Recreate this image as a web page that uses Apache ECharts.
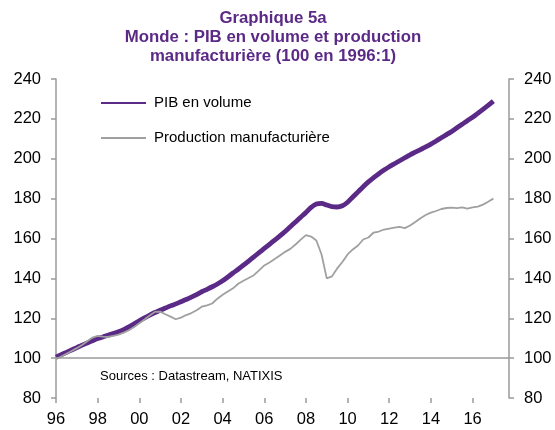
<!DOCTYPE html>
<html>
<head>
<meta charset="utf-8">
<script src="https://cdn.jsdelivr.net/npm/echarts@6/dist/echarts.min.js"></script>
<style>
  html, body { margin: 0; padding: 0; background: #fff; }
  #chart { width: 555px; height: 430px; }
</style>
</head>
<body>
<div id="chart"></div>
<script>
// Graphique 5a — Monde : PIB en volume et production manufacturière (100 en 1996:1)
var firstYear = 1996;
var lastYear = 2017;
var tickLabels = ['96', '98', '00', '02', '04', '06', '08', '10', '12', '14', '16'];

// données trimestrielles, 1996:1 -> 2017:1
var pib = [
  100.5, 101.7, 102.9, 104.1,   // 1996
  105.3, 106.5, 107.6, 108.7,   // 1997
  109.8, 110.6, 111.5, 112.3,   // 1998
  113.2, 114.3, 115.7, 117.2,   // 1999
  118.7, 120.2, 121.6, 122.9,   // 2000
  124.0, 125.1, 126.2, 127.2,   // 2001
  128.3, 129.4, 130.6, 131.9,   // 2002
  133.3, 134.5, 135.8, 137.2,   // 2003
  138.8, 140.7, 142.7, 144.6,   // 2004
  146.6, 148.7, 150.8, 152.9,   // 2005
  155.0, 157.1, 159.2, 161.3,   // 2006
  163.5, 165.9, 168.3, 170.7,   // 2007
  173.0, 175.6, 177.3, 177.6,   // 2008
  176.8, 176.0, 175.8, 176.4,   // 2009
  178.2, 180.8, 183.4, 186.0,   // 2010
  188.4, 190.5, 192.5, 194.3,   // 2011
  196.0, 197.5, 199.0, 200.5,   // 2012
  202.0, 203.3, 204.6, 205.9,   // 2013
  207.3, 208.9, 210.5, 212.1,   // 2014
  213.7, 215.5, 217.3, 219.1,   // 2015
  220.8, 222.8, 224.8, 226.8,   // 2016
  228.9                          // 2017
];

var production = [
  99.5, 100.8, 102.2, 103.6,    // 1996
  105.0, 106.6, 108.5, 110.3,   // 1997
  111.2, 110.8, 110.6, 111.2,   // 1998
  111.8, 112.8, 114.0, 115.6,   // 1999
  117.5, 119.4, 121.4, 123.2,   // 2000
  123.3, 122.0, 120.8, 119.5,   // 2001
  120.3, 121.6, 122.6, 124.0,   // 2002
  125.8, 126.5, 127.4, 129.8,   // 2003
  131.8, 133.4, 135.0, 137.3,   // 2004
  138.8, 140.2, 141.6, 144.0,   // 2005
  146.5, 148.0, 149.7, 151.5,   // 2006
  153.3, 154.8, 157.0, 159.4,   // 2007
  161.7, 161.0, 159.0, 152.0,   // 2008
  140.0, 141.0, 145.0, 148.2,   // 2009
  152.0, 154.5, 156.5, 159.5,   // 2010
  160.5, 163.0, 163.5, 164.5,   // 2011
  165.0, 165.4, 165.8, 165.2,   // 2012
  166.5, 168.3, 170.2, 171.8,   // 2013
  173.0, 173.8, 174.8, 175.3,   // 2014
  175.5, 175.2, 175.6, 175.0,   // 2015
  175.6, 176.0, 177.0, 178.4,   // 2016
  180.0                          // 2017
];

var purple = '#5b2a86';
var grey = '#a0a0a0';
var axisGrey = '#9a9a9a';

// catégories trimestrielles 1996:1 ... 2017:4
var quarters = [];
for (var y = firstYear; y <= lastYear; y++) {
  for (var q = 1; q <= 4; q++) quarters.push(y + ':' + q);
}

var chart = echarts.init(document.getElementById('chart'), null, { renderer: 'canvas' });

var yAxisBase = function(pos) {
  return {
    type: 'value',
    position: pos,
    min: 80,
    max: 240,
    interval: 20,
    axisLine: { show: true, lineStyle: { color: axisGrey, width: 1.5 } },
    axisTick: { show: true, length: 5, lineStyle: { color: axisGrey, width: 1.5 } },
    axisLabel: { color: '#000', fontSize: 16.5, fontFamily: 'Liberation Sans', margin: 15 },
    splitLine: { show: false }
  };
};

chart.setOption({
  animation: false,
  backgroundColor: '#fff',
  title: {
    text: 'Graphique 5a\nMonde : PIB en volume et production\nmanufacturière (100 en 1996:1)',
    left: 268,
    top: 4,
    textAlign: 'center',
    textStyle: {
      color: purple,
      fontSize: 16.8,
      fontWeight: 'bold',
      fontFamily: 'Liberation Sans',
      lineHeight: 19
    }
  },
  legend: {
    data: ['PIB en volume', 'Production manufacturière'],
    orient: 'vertical',
    left: 100,
    top: 94,
    padding: 0,
    itemWidth: 45,
    itemHeight: 14,
    itemGap: 17,
    itemStyle: { opacity: 0 },
    textStyle: { color: '#000', fontSize: 15, fontFamily: 'Liberation Sans', lineHeight: 18, padding: [0, 0, 0, 3] }
  },
  grid: { left: 56, right: 46, top: 79, bottom: 32 },
  xAxis: {
    type: 'category',
    data: quarters,
    boundaryGap: false,
    axisLine: { show: false },
    axisTick: {
      show: true,
      length: 5,
      interval: function(i) { return i % 8 === 0; },
      lineStyle: { color: axisGrey, width: 1.5 }
    },
    axisLabel: {
      color: '#000',
      fontSize: 16.5,
      fontFamily: 'Liberation Sans',
      margin: 13,
      interval: function(i) { return i % 8 === 0; },
      formatter: function(v, i) { return tickLabels[i / 8]; }
    },
    splitLine: { show: false }
  },
  yAxis: [yAxisBase('left'), yAxisBase('right')],
  graphic: [{
    type: 'text',
    left: 100,
    top: 370,
    style: { text: 'Sources : Datastream, NATIXIS', fill: '#000', fontSize: 13, fontFamily: 'Liberation Sans' }
  }],
  series: [
    {
      name: 'PIB en volume',
      type: 'line',
      data: pib,
      symbol: 'none',
      smooth: 0.3,
      lineStyle: { color: purple, width: 4.8 },
      itemStyle: { color: purple }
    },
    {
      name: 'Production manufacturière',
      type: 'line',
      data: production,
      symbol: 'none',
      lineStyle: { color: grey, width: 1.8 },
      itemStyle: { color: grey },
      markLine: {
        silent: true,
        symbol: ['none', 'none'],
        label: { show: false },
        lineStyle: { color: axisGrey, width: 1.5, type: 'solid' },
        data: [{ yAxis: 100 }]
      }
    }
  ]
});
</script>
</body>
</html>
